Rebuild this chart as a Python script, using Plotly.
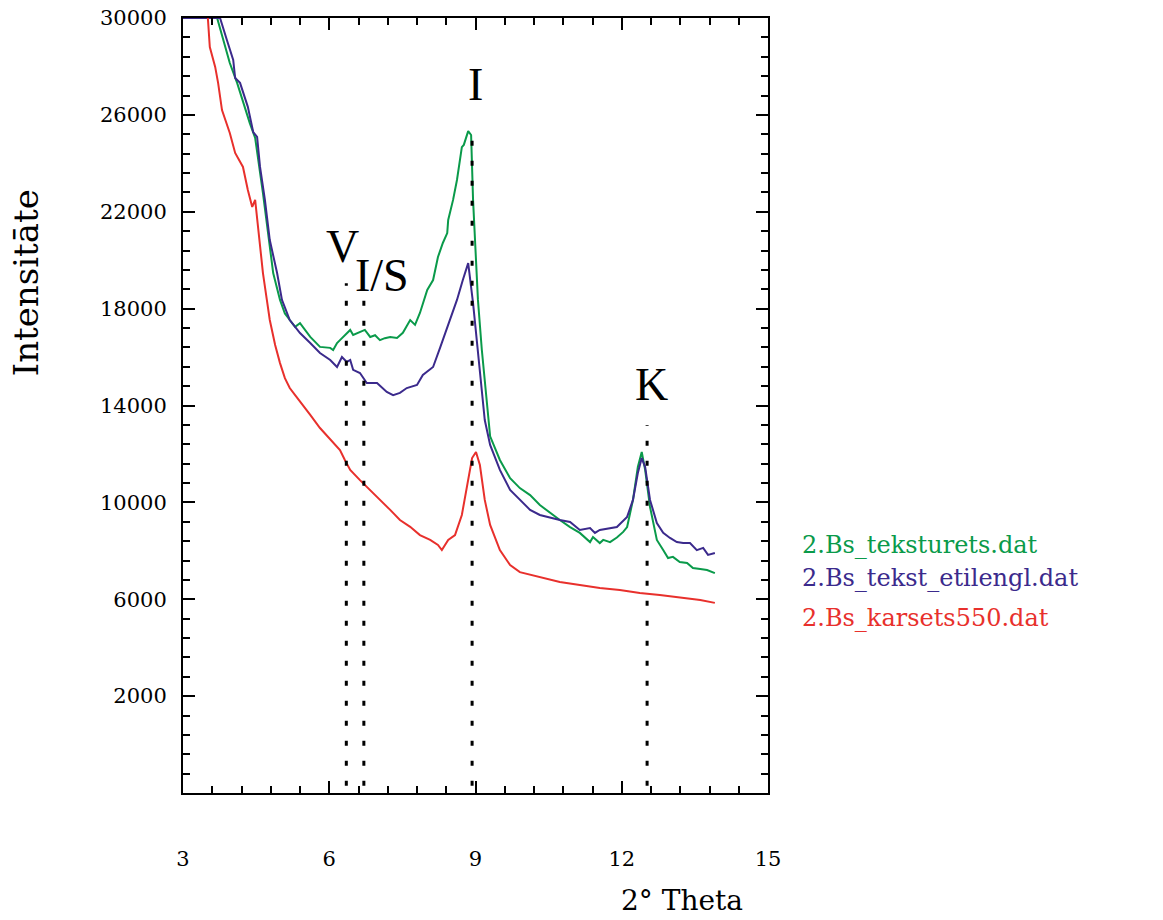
import plotly.graph_objects as go

# ---- data ----
green_x = [3.00, 3.70, 3.96, 4.11, 4.37, 4.48, 4.64, 4.74, 4.85, 4.99, 5.09, 5.19, 5.30, 5.40, 5.61,
           5.81, 6.02, 6.08, 6.16, 6.22, 6.32, 6.43, 6.49, 6.63, 6.73, 6.84, 6.94, 7.04, 7.14, 7.25,
           7.39, 7.51, 7.66, 7.76, 7.86, 8.01, 8.13, 8.23, 8.33, 8.42, 8.44, 8.54, 8.62, 8.72, 8.76,
           8.85, 8.91, 8.95, 9.05, 9.13, 9.26, 9.30, 9.50, 9.71, 9.91, 10.12, 10.32, 10.53, 10.73,
           10.94, 11.14, 11.35, 11.41, 11.55, 11.62, 11.76, 11.90, 12.03, 12.11, 12.23, 12.33, 12.41,
           12.48, 12.58, 12.72, 12.85, 12.95, 13.05, 13.19, 13.34, 13.46, 13.61, 13.75, 13.91]
green_y = [30000, 30000, 28140, 27320, 25660, 25050, 22770, 21120, 19470, 18360, 17800, 17530, 17250,
           17400, 16830, 16420, 16380, 16290, 16580, 16700, 16900, 17120, 16910, 17030, 17120, 16830,
           16900, 16700, 16780, 16830, 16790, 17000, 17530, 17330, 17820, 18770, 19180, 20130, 20710,
           21120, 21660, 22490, 23310, 24670, 24760, 25330, 25170, 22490, 18360, 16290, 13400, 12730,
           11750, 11000, 10590, 10300, 9890, 9560, 9270, 8980, 8740, 8360, 8570, 8320, 8450, 8360,
           8550, 8780, 8980, 10100, 11460, 12080, 11340, 9810, 8450, 8030, 7700, 7750, 7540, 7500,
           7290, 7250, 7210, 7080]

blue_x = [3.00, 3.76, 3.90, 4.03, 4.07, 4.17, 4.33, 4.44, 4.52, 4.58, 4.68, 4.78, 4.93, 5.03, 5.19,
          5.40, 5.61, 5.81, 6.02, 6.16, 6.26, 6.36, 6.43, 6.49, 6.63, 6.77, 6.98, 7.18, 7.31, 7.45,
          7.59, 7.80, 7.92, 8.13, 8.28, 8.48, 8.62, 8.74, 8.85, 8.95, 9.09, 9.19, 9.30, 9.50, 9.71,
          9.91, 10.12, 10.32, 10.53, 10.73, 10.94, 11.14, 11.35, 11.45, 11.55, 11.76, 11.90, 12.11,
          12.23, 12.33, 12.41, 12.48, 12.58, 12.72, 12.85, 12.99, 13.13, 13.26, 13.40, 13.54, 13.67,
          13.77, 13.91]
blue_y = [30000, 30000, 29090, 28270, 27520, 27320, 26330, 25290, 25090, 23850, 22490, 20830, 19470,
          18360, 17530, 16990, 16580, 16170, 15880, 15590, 16000, 15800, 15880, 15470, 15340, 14930,
          14930, 14560, 14430, 14520, 14720, 14850, 15260, 15590, 16420, 17530, 18360, 19180, 19880,
          18230, 15470, 13400, 12370, 11340, 10510, 10100, 9690, 9480, 9360, 9270, 9190, 8860, 8940,
          8740, 8860, 8940, 8980, 9400, 10100, 11210, 11830, 11460, 10100, 9150, 8740, 8530, 8360,
          8320, 8320, 8030, 8120, 7830, 7910]

red_x = [3.51, 3.55, 3.66, 3.72, 3.80, 3.96, 4.07, 4.23, 4.33, 4.42, 4.48, 4.54, 4.64, 4.72, 4.78,
         4.89, 4.99, 5.09, 5.19, 5.30, 5.40, 5.61, 5.81, 6.02, 6.22, 6.32, 6.43, 6.63, 6.84, 7.04,
         7.25, 7.45, 7.66, 7.86, 8.07, 8.23, 8.31, 8.44, 8.58, 8.72, 8.85, 8.93, 9.01, 9.09, 9.19,
         9.30, 9.50, 9.71, 9.91, 10.32, 10.73, 11.14, 11.55, 11.96, 12.37, 12.78, 13.19, 13.61, 13.91]
red_y = [30000, 28800, 27980, 27320, 26200, 25250, 24430, 23850, 22900, 22200, 22490, 21370, 19470,
         18360, 17530, 16500, 15750, 15130, 14720, 14430, 14150, 13610, 13070, 12580, 12160, 11750,
         11340, 10920, 10510, 10100, 9690, 9270, 8990, 8650, 8450, 8240, 8030, 8450, 8650, 9480,
         10920, 11830, 12080, 11540, 10100, 9070, 8030, 7410, 7120, 6920, 6710, 6590, 6460, 6380,
         6260, 6180, 6090, 5970, 5850]

series_names = ["2.Bs_teksturets.dat", "2.Bs_tekst_etilengl.dat", "2.Bs_karsets550.dat"]
series_colors = ["#0a9a4a", "#3b2a8c", "#e8302c"]

peak_labels = ["V", "I/S", "I", "K"]
peak_pos = [6.35, 6.71, 8.93, 12.52]
peak_top = [19050, 18350, 25250, 13200]
peak_bottom = -1700
label_x = [6.28, 7.08, 9.01, 12.60]
label_y = [20550, 19350, 27270, 14850]

x_tick_vals = [3, 6, 9, 12, 15]
x_tick_text = ["3", "6", "9", "12", "15"]
y_tick_vals = [2000, 6000, 10000, 14000, 18000, 22000, 26000, 30000]
y_tick_text = ["2000", "6000", "10000", "14000", "18000", "22000", "26000", "30000"]

FONT = "DejaVu Serif"
SERIF = "Liberation Serif"

fig = go.Figure()

for xs, ys, name, col in zip([green_x, blue_x, red_x], [green_y, blue_y, red_y],
                             series_names, series_colors):
    fig.add_trace(go.Scatter(x=xs, y=ys, mode="lines", name=name,
                             line=dict(color=col, width=2), showlegend=False))

for px, top in zip(peak_pos, peak_top):
    fig.add_trace(go.Scatter(x=[px, px], y=[peak_bottom, top], mode="lines",
                             line=dict(color="black", width=3, dash="5px,15px"),
                             showlegend=False, hoverinfo="skip"))

for txt, lx, ly in zip(peak_labels, label_x, label_y):
    fig.add_annotation(x=lx, y=ly, text=txt, showarrow=False,
                       font=dict(family=SERIF, size=46, color="black"),
                       xanchor="center", yanchor="middle")

legend_y = [0.32, 0.2774, 0.2258]
for name, col, yy in zip(series_names, series_colors, legend_y):
    fig.add_annotation(x=1.0547, y=yy, xref="paper", yref="paper", text=name,
                       showarrow=False, xanchor="left", yanchor="middle",
                       font=dict(family=FONT, size=24, color=col))

fig.add_annotation(x=0.853, y=-0.139, xref="paper", yref="paper", text="2° Theta",
                   showarrow=False, xanchor="center", yanchor="middle",
                   font=dict(family=FONT, size=28, color="black"))
fig.add_annotation(x=-0.268, y=0.658, xref="paper", yref="paper", text="Intensitāte",
                   showarrow=False, textangle=-90, xanchor="center", yanchor="middle",
                   font=dict(family=FONT, size=34, color="black"))

axis_common = dict(showline=True, linecolor="black", linewidth=2, mirror="allticks",
                   ticks="inside", ticklen=12, tickwidth=2, tickcolor="black",
                   showgrid=False, zeroline=False, automargin=False,
                   tickfont=dict(family=FONT, size=21, color="black"))

fig.update_xaxes(range=[3, 15], tickmode="array", tickvals=x_tick_vals, ticktext=x_tick_text,
                 minor=dict(ticks="inside", ticklen=7, tickwidth=2, tickcolor="black",
                            tick0=3, dtick=0.6, showgrid=False),
                 ticklabelstandoff=46, **axis_common)
fig.update_yaxes(range=[-2000, 30000], tickmode="array", tickvals=y_tick_vals, ticktext=y_tick_text,
                 minor=dict(ticks="inside", ticklen=7, tickwidth=2, tickcolor="black",
                            tick0=2000, dtick=800, showgrid=False),
                 ticklabelstandoff=10, **axis_common)

fig.update_layout(width=1163, height=920, margin=dict(l=183, r=395, t=18, b=127),
                  plot_bgcolor="white", paper_bgcolor="white", showlegend=False)

fig.write_html("out.html", config={"displayModeBar": False},
               post_script="document.body.style.margin='0';")
